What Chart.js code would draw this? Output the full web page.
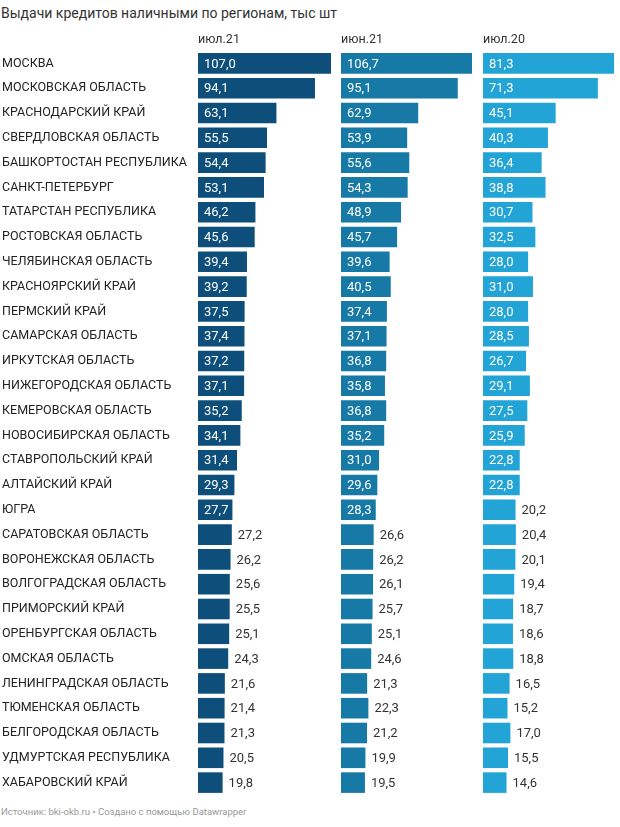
<!DOCTYPE html>
<html>
<head>
<meta charset="utf-8">
<script src="https://cdn.jsdelivr.net/npm/chart.js@4"></script>
<style>
  body { margin: 0; background: #fff; font-family: Roboto, sans-serif; }
  .title { position: absolute; left: 1px; top: 5px; font-size: 14px; color: #333; }
  .footer { position: absolute; left: 1px; top: 806px; font-size: 9.5px; color: #999; }
  canvas { position: absolute; top: 0; }
</style>
</head>
<body>
<div class="title">Выдачи кредитов наличными по регионам, тыс шт</div>
<canvas id="c1" width="331" height="805" style="left:0"></canvas>
<canvas id="c2" width="131" height="805" style="left:341px"></canvas>
<canvas id="c3" width="131" height="805" style="left:483px"></canvas>
<div class="footer">Источник: bki-okb.ru • Создано с помощью Datawrapper</div>
<script>
var regions = [
  'МОСКВА', 'МОСКОВСКАЯ ОБЛАСТЬ', 'КРАСНОДАРСКИЙ КРАЙ', 'СВЕРДЛОВСКАЯ ОБЛАСТЬ',
  'БАШКОРТОСТАН РЕСПУБЛИКА', 'САНКТ-ПЕТЕРБУРГ', 'ТАТАРСТАН РЕСПУБЛИКА', 'РОСТОВСКАЯ ОБЛАСТЬ',
  'ЧЕЛЯБИНСКАЯ ОБЛАСТЬ', 'КРАСНОЯРСКИЙ КРАЙ', 'ПЕРМСКИЙ КРАЙ', 'САМАРСКАЯ ОБЛАСТЬ',
  'ИРКУТСКАЯ ОБЛАСТЬ', 'НИЖЕГОРОДСКАЯ ОБЛАСТЬ', 'КЕМЕРОВСКАЯ ОБЛАСТЬ', 'НОВОСИБИРСКАЯ ОБЛАСТЬ',
  'СТАВРОПОЛЬСКИЙ КРАЙ', 'АЛТАЙСКИЙ КРАЙ', 'ЮГРА', 'САРАТОВСКАЯ ОБЛАСТЬ',
  'ВОРОНЕЖСКАЯ ОБЛАСТЬ', 'ВОЛГОГРАДСКАЯ ОБЛАСТЬ', 'ПРИМОРСКИЙ КРАЙ', 'ОРЕНБУРГСКАЯ ОБЛАСТЬ',
  'ОМСКАЯ ОБЛАСТЬ', 'ЛЕНИНГРАДСКАЯ ОБЛАСТЬ', 'ТЮМЕНСКАЯ ОБЛАСТЬ', 'БЕЛГОРОДСКАЯ ОБЛАСТЬ',
  'УДМУРТСКАЯ РЕСПУБЛИКА', 'ХАБАРОВСКИЙ КРАЙ'
];

var jul21 = [107.0, 94.1, 63.1, 55.5, 54.4, 53.1, 46.2, 45.6, 39.4, 39.2, 37.5, 37.4, 37.2, 37.1, 35.2,
  34.1, 31.4, 29.3, 27.7, 27.2, 26.2, 25.6, 25.5, 25.1, 24.3, 21.6, 21.4, 21.3, 20.5, 19.8];
var jun21 = [106.7, 95.1, 62.9, 53.9, 55.6, 54.3, 48.9, 45.7, 39.6, 40.5, 37.4, 37.1, 36.8, 35.8, 36.8,
  35.2, 31.0, 29.6, 28.3, 26.6, 26.2, 26.1, 25.7, 25.1, 24.6, 21.3, 22.3, 21.2, 19.9, 19.5];
var jul20 = [81.3, 71.3, 45.1, 40.3, 36.4, 38.8, 30.7, 32.5, 28.0, 31.0, 28.0, 28.5, 26.7, 29.1, 27.5,
  25.9, 22.8, 22.8, 20.2, 20.4, 20.1, 19.4, 18.7, 18.6, 18.8, 16.5, 15.2, 17.0, 15.5, 14.6];

var columnNames = ['июл.21', 'июн.21', 'июл.20'];
var columnColors = ['#0d4f7a', '#1679a6', '#22a4d6'];

var fmt = function (v) {
  return v.toFixed(1).replace('.', ',');
};

// value labels: inside the bar when it fits, otherwise right after it
var valueLabels = {
  id: 'valueLabels',
  afterDatasetsDraw: function (chart, args, opts) {
    var ctx = chart.ctx;
    var meta = chart.getDatasetMeta(0);
    var data = chart.data.datasets[0].data;
    ctx.save();
    ctx.font = '13px Roboto';
    ctx.textBaseline = 'middle';
    ctx.textAlign = 'left';
    meta.data.forEach(function (bar, i) {
      var w = bar.x - bar.base;
      if (w >= 34) {
        ctx.fillStyle = '#fff';
        ctx.fillText(fmt(data[i]), bar.base + 6, bar.y + 1);
      } else {
        ctx.fillStyle = '#333';
        ctx.fillText(fmt(data[i]), bar.x + 6, bar.y + 1);
      }
    });
    // column header
    ctx.font = '12.5px Roboto';
    ctx.fillStyle = '#333';
    ctx.fillText(opts.header, chart.chartArea.left, chart.chartArea.top - 11);
    ctx.restore();
  }
};

var makePanel = function (id, values, idx, showLabels) {
  var ctx = document.getElementById(id).getContext('2d');
  return new Chart(ctx, {
    type: 'bar',
    data: {
      labels: regions,
      datasets: [{
        data: values,
        backgroundColor: columnColors[idx],
        barPercentage: 0.83,
        categoryPercentage: 1
      }]
    },
    options: {
      indexAxis: 'y',
      responsive: false,
      animation: false,
      devicePixelRatio: 1,
      layout: { padding: { top: 51, left: showLabels ? 2 : 0, right: 0, bottom: 10 } },
      plugins: {
        legend: { display: false },
        tooltip: { enabled: false },
        valueLabels: { header: columnNames[idx] }
      },
      scales: {
        x: {
          display: false,
          min: 0,
          max: Math.max.apply(null, values)
        },
        y: {
          display: showLabels,
          grid: { display: false },
          border: { display: false },
          ticks: {
            crossAlign: 'far',
            padding: 0,
            color: '#222',
            font: { family: 'Roboto', size: 12.5 }
          },
          afterFit: function (scale) {
            // afterFit also runs for hidden axes
            scale.width = showLabels ? 196 : 0;
          }
        }
      }
    },
    plugins: [valueLabels]
  });
};

makePanel('c1', jul21, 0, true);
makePanel('c2', jun21, 1, false);
makePanel('c3', jul20, 2, false);
</script>
</body>
</html>
